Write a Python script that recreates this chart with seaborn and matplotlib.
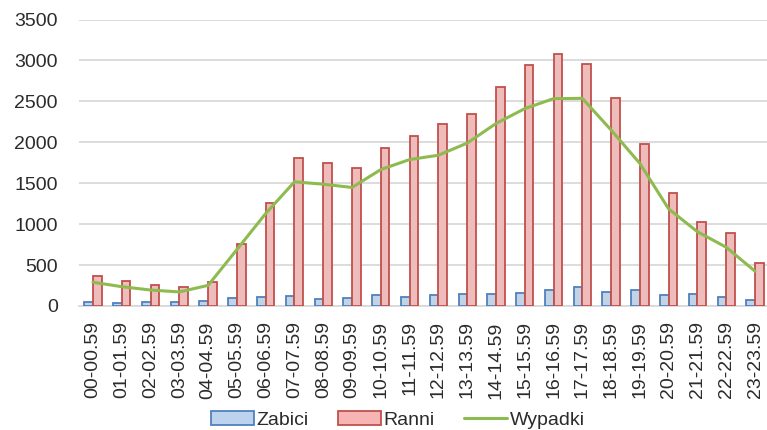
import numpy as np
import pandas as pd
import matplotlib
matplotlib.use("Agg")
import matplotlib.pyplot as plt
from matplotlib.patches import Patch
from matplotlib.lines import Line2D
import seaborn as sns

# Hourly road-accident statistics
hours = [f"{h:02d}-{h:02d}.59" for h in range(24)]
zabici = [52, 33, 49, 49, 65, 101, 114, 118, 89, 101, 130, 114,
          130, 146, 146, 163, 195, 228, 171, 199, 134, 146, 114, 73]
ranni = [366, 305, 256, 236, 293, 753, 1260, 1802, 1753, 1680, 1931, 2076,
         2218, 2340, 2670, 2948, 3074, 2954, 2536, 1982, 1377, 1032, 889, 525]
wypadki = [290, 236, 195, 172, 252, 690, 1130, 1517, 1488, 1448, 1667, 1789,
           1842, 1990, 2229, 2411, 2533, 2537, 2150, 1741, 1186, 907, 718, 425]

y_ticks = [0, 500, 1000, 1500, 2000, 2500, 3000, 3500]

blue_fill, blue_edge = "#BDD2EC", "#4F81BD"
red_fill, red_edge = "#F7B4B4", "#C0504D"
green = "#8DBB4F"
text_col = "#2B2B2B"

sns.set_theme(style="white")
plt.rcParams["font.family"] = ["Liberation Sans", "DejaVu Sans"]

df = pd.DataFrame({
    "hour": hours * 2,
    "value": zabici + ranni,
    "series": ["Zabici"] * len(hours) + ["Ranni"] * len(hours),
})

fig = plt.figure(figsize=(7.67, 4.30), dpi=100)
ax = fig.add_axes([78.6 / 767, (430 - 306) / 430, 690.8 / 767, (306 - 19.5) / 430])

sns.barplot(data=df, x="hour", y="value", hue="series",
            hue_order=["Zabici", "Ranni"],
            palette={"Zabici": blue_fill, "Ranni": red_fill},
            width=0.6, dodge=True, legend=False, ax=ax, zorder=3)

# outline each bar with the darker tone of its series
n = len(hours)
for i, bar in enumerate(ax.patches[:2 * n]):
    bar.set_edgecolor(blue_edge if i < n else red_edge)
    bar.set_linewidth(1.3)

sns.lineplot(x=np.arange(n), y=wypadki, color=green, linewidth=2.2,
             ax=ax, zorder=4, sort=False)

ax.set_xlim(-0.5, n - 0.5)
ax.set_ylim(0, 3500)
ax.set_yticks(y_ticks)
ax.set_yticklabels([str(v) for v in y_ticks], fontsize=14, color=text_col)
ax.set_xticks(np.arange(n))
ax.set_xticklabels(hours, rotation=90, fontsize=14, color=text_col)
ax.tick_params(axis="y", length=0, pad=15)
ax.tick_params(axis="x", length=0, pad=11)
ax.set_xlabel("")
ax.set_ylabel("")

ax.yaxis.grid(True, color="#D9D9D9", linewidth=1.3)
ax.set_axisbelow(True)
for side in ["top", "right", "left"]:
    ax.spines[side].set_visible(False)
ax.spines["bottom"].set_color("#D9D9D9")
ax.spines["bottom"].set_linewidth(1.3)

handles = [
    Patch(facecolor=blue_fill, edgecolor=blue_edge, linewidth=1.3, label="Zabici"),
    Patch(facecolor=red_fill, edgecolor=red_edge, linewidth=1.3, label="Ranni"),
    Line2D([0], [0], color=green, linewidth=2.2, label="Wypadki"),
]
fig.legend(handles=handles, loc="center", bbox_to_anchor=(398 / 767, 10 / 430),
           ncol=3, frameon=False, fontsize=14, handlelength=2.2,
           handleheight=0.75, handletextpad=0.15, columnspacing=1.5,
           labelcolor=text_col)

fig.savefig("out.png", dpi=100)
